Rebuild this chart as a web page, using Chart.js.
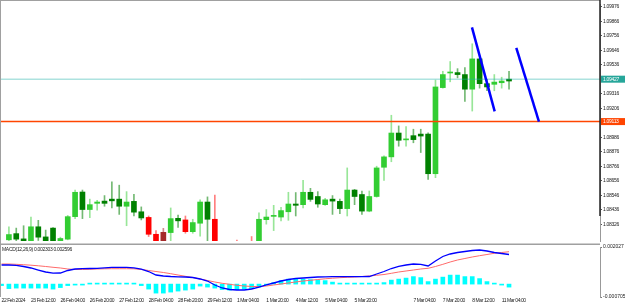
<!DOCTYPE html>
<html><head><meta charset="utf-8">
<script src="https://cdn.jsdelivr.net/npm/chart.js@4.4.1/dist/chart.umd.min.js"></script>
<style>
html,body{margin:0;padding:0;background:#fff;}
#wrap{position:relative;width:625px;height:305px;overflow:hidden;background:#fff;}
canvas{position:absolute;left:0;}
#c1{top:0;} #c2{top:244px;}
</style></head><body>
<div id="wrap"><canvas id="c1" width="625" height="245"></canvas><canvas id="c2" width="625" height="61"></canvas></div>
<script>
// ---------- DATA (H4 bars, bar 0 = 22 Feb 2024 20:00) ----------
const tickBars   = [0,4,8,12,16,20,24,28,32,36,40,44,48,56,60,64,68];
const tickLabels = ['22 Feb 2024','23 Feb 12:00','26 Feb 04:00','26 Feb 20:00','27 Feb 12:00','28 Feb 04:00','28 Feb 20:00','29 Feb 12:00','1 Mar 04:00','1 Mar 20:00','4 Mar 12:00','5 Mar 04:00','5 Mar 20:00','7 Mar 04:00','7 Mar 20:00','8 Mar 12:00','11 Mar 04:00'];

const open  = [1.08180,1.08207,1.08254,1.08214,1.08190,1.08306,1.08229,1.08296,1.08195,1.08212,
               1.08383,1.08570,1.08437,1.08484,1.08501,1.08516,1.08516,1.08462,1.08499,1.08420,
               1.08377,1.08249,1.08180,1.08262,1.08370,1.08358,1.08269,1.08333,1.08494,1.08363,
               1.08150,1.08110,1.08140,1.08100,1.08180,1.08160,1.08360,1.08385,1.08380,1.08420,
               1.08479,1.08474,1.08568,1.08536,1.08474,1.08516,1.08499,1.08444,1.08585,1.08551,
               1.08425,1.08536,1.08758,1.08837,1.09018,1.08966,1.08998,1.09010,1.09010,1.08709,
               1.09363,1.09474,1.09477,1.09462,1.09351,1.09581,1.09393,1.09388,1.09400,1.09427];
const high  = [1.08195,1.08306,1.08296,1.08314,1.08380,1.08355,1.08281,1.08300,1.08227,1.08392,
               1.08585,1.08585,1.08516,1.08506,1.08543,1.08647,1.08622,1.08573,1.08553,1.08457,
               1.08388,1.08277,1.08294,1.08449,1.08395,1.08388,1.08363,1.08511,1.08533,1.08546,
               1.08190,1.08180,1.08205,1.08180,1.08232,1.08412,1.08437,1.08469,1.08454,1.08568,
               1.08566,1.08659,1.08598,1.08573,1.08523,1.08543,1.08516,1.08753,1.08590,1.08578,
               1.08578,1.08766,1.08844,1.09153,1.09072,1.09067,1.09047,1.09047,1.09020,1.09420,
               1.09487,1.09561,1.09507,1.09516,1.09696,1.09585,1.09425,1.09462,1.09442,1.09487];
const low   = [1.08120,1.08195,1.08190,1.08185,1.08180,1.08202,1.08180,1.08175,1.08190,1.08207,
               1.08368,1.08368,1.08375,1.08432,1.08462,1.08449,1.08400,1.08314,1.08388,1.08358,
               1.08232,1.08150,1.08160,1.08190,1.08301,1.08257,1.08257,1.08234,1.08180,1.08120,
               1.08080,1.08060,1.08050,1.08070,1.08100,1.08150,1.08326,1.08277,1.08351,1.08355,
               1.08388,1.08449,1.08499,1.08454,1.08469,1.08400,1.08405,1.08388,1.08474,1.08400,
               1.08420,1.08531,1.08659,1.08800,1.08918,1.08918,1.08944,1.08870,1.08666,1.08679,
               1.09359,1.09407,1.09437,1.09259,1.09185,1.09359,1.09339,1.09339,1.09359,1.09351];
const close = [1.08150,1.08247,1.08212,1.08200,1.08306,1.08227,1.08190,1.08185,1.08217,1.08383,
               1.08568,1.08437,1.08474,1.08494,1.08484,1.08503,1.08462,1.08494,1.08417,1.08373,
               1.08249,1.08170,1.08264,1.08368,1.08351,1.08269,1.08338,1.08494,1.08363,1.08150,
               1.08110,1.08140,1.08100,1.08150,1.08150,1.08363,1.08380,1.08390,1.08429,1.08479,
               1.08469,1.08568,1.08514,1.08479,1.08511,1.08501,1.08444,1.08585,1.08536,1.08425,
               1.08536,1.08753,1.08837,1.09018,1.08963,1.08970,1.08968,1.08995,1.08709,1.09368,
               1.09462,1.09479,1.09462,1.09351,1.09581,1.09393,1.09368,1.09405,1.09413,1.09413];
// candle colouring regime: u = green scheme, d = red scheme
const trend = ['u','u','u','u','u','u','u','u','u','u','u','u','u','u','u','u','u','u','u','u',
               'd','d','d','u','u','d','u','u','u','d','d','d','d','d','d','u','u','u','u','u',
               'u','u','u','u','u','u','u','u','u','u','u','u','u','u','u','u','u','u','u','u',
               'u','u','u','u','u','u','u','u','u','u'];

const priceTicks = [1.09976,1.09866,1.09756,1.09646,1.09536,1.09316,1.09206,1.08986,1.08876,1.08766,1.08656,1.08546,1.08436,1.08326];
const bidPrice   = 1.09427;
const levelPrice = 1.09105;
const levelLabel = '1.09113';
const trendLineA = [{x:63.96,y:1.09820},{x:67.05,y:1.09183}];
const trendLineB = [{x:69.99,y:1.09665},{x:73.07,y:1.09105}];

const macdMain = [0.001043,0.001043,0.001027,0.000962,0.000880,0.000770,0.000661,0.000595,0.000606,0.000743,
                  0.000825,0.000841,0.000852,0.000863,0.000890,0.000918,0.000918,0.000918,0.000890,0.000814,
                  0.000688,0.000497,0.000442,0.000415,0.000399,0.000388,0.000361,0.000279,0.000169,-0.000049,
                  -0.000213,-0.000295,-0.000323,-0.000323,-0.000268,-0.000159,-0.000049,0.000060,0.000169,0.000251,
                  0.000306,0.000333,0.000361,0.000388,0.000399,0.000404,0.000404,0.000404,0.000404,0.000404,
                  0.000415,0.000552,0.000688,0.000852,0.000972,0.001043,0.001098,0.001081,0.000989,0.001262,
                  0.001508,0.001645,0.001726,0.001781,0.001836,0.001863,0.001808,0.001726,0.001672,0.001617];
const macdSignal = [0.001098,0.001098,0.001081,0.001060,0.001033,0.001000,0.000962,0.000918,0.000880,0.000825,
                    0.000798,0.000798,0.000809,0.000825,0.000836,0.000841,0.000841,0.000841,0.000836,0.000798,
                    0.000743,0.000688,0.000634,0.000568,0.000497,0.000426,0.000361,0.000279,0.000197,0.000115,
                    0.000044,-0.000011,-0.000066,-0.000104,-0.000131,-0.000131,-0.000104,-0.000049,0.000005,0.000060,
                    0.000115,0.000169,0.000207,0.000251,0.000289,0.000322,0.000350,0.000371,0.000388,0.000415,
                    0.000442,0.000481,0.000524,0.000590,0.000661,0.000716,0.000770,0.000825,0.000863,0.000962,
                    0.001081,0.001207,0.001317,0.001399,0.001481,0.001552,0.001617,0.001683,0.001726,0.001770];
const macdHist = [-0.000082,-0.000246,-0.000219,-0.000219,-0.000219,-0.000219,-0.000219,-0.000273,-0.000191,-0.000082,
                  -0.000038,-0.000027,0.000027,0.000038,0.000038,0.000038,0.000038,0.000027,0.000016,-0.000082,
                  -0.000273,-0.000492,-0.000492,-0.000437,-0.000382,-0.000328,-0.000273,-0.000109,-0.000164,-0.000219,
                  -0.000301,-0.000328,-0.000301,-0.000273,-0.000246,-0.000164,-0.000038,0.000082,0.000191,0.000273,
                  0.000301,0.000273,0.000246,0.000219,0.000191,0.000109,0.000055,0.000038,0.000027,0.000016,
                  0.000016,0.000038,0.000082,0.000219,0.000273,0.000328,0.000410,0.000355,0.000137,0.000273,
                  0.000382,0.000492,0.000492,0.000410,0.000410,0.000301,0.000137,0.000027,-0.000027,-0.000164];
const macdTicks = [0.002027,-0.000705];
const macdName = 'MACD(12,26,9)';
const macdValues = [0.002303,0.002596];

// ---------- RENDER ----------
const FONT = "'Liberation Sans',Arial,sans-serif";
const X_MIN = -0.074, X_MAX = 81.37;
const P_MIN = 1.08198, P_MAX = 1.09998;
const idx = open.map((_, k) => k);

function isBull(k){ return close[k] >= open[k]; }
function bodyColor(k){
  if (trend[k] === 'd') return isBull(k) ? '#A52A2A' : '#FF0000';
  return isBull(k) ? '#32CD32' : '#008000';
}
function wickColor(k){
  if (trend[k] === 'd') return isBull(k) ? 'rgba(165,42,42,0.55)' : 'rgba(255,0,0,0.5)';
  return isBull(k) ? 'rgba(50,205,50,0.5)' : 'rgba(0,128,0,0.55)';
}

const mainDecor = {
  id: 'mainDecor',
  beforeDraw(chart){ chart.ctx.letterSpacing = '-0.3px'; },
  afterDraw(chart){
    const ctx = chart.ctx, y = chart.scales.y, a = chart.chartArea;
    ctx.save();
    ctx.strokeStyle = '#a0a0a0'; ctx.lineWidth = 1;
    ctx.beginPath(); ctx.moveTo(0, 0.5); ctx.lineTo(a.right, 0.5); ctx.stroke();
    ctx.beginPath(); ctx.moveTo(0.5, 0); ctx.lineTo(0.5, 245); ctx.stroke();
    ctx.lineWidth = 1.5;
    ctx.beginPath(); ctx.moveTo(0, 244.2); ctx.lineTo(a.right, 244.2); ctx.stroke();
    ctx.strokeStyle = '#222'; ctx.lineWidth = 1.5;
    ctx.beginPath(); ctx.moveTo(a.right, 0); ctx.lineTo(a.right, 216); ctx.stroke();
    const tags = [[bidPrice, bidPrice.toFixed(5), '#26A69A'], [levelPrice, levelLabel, '#FF4500']];
    ctx.font = '5px ' + FONT; ctx.textBaseline = 'middle'; ctx.textAlign = 'left';
    for (const [p, t, c] of tags){
      const py = y.getPixelForValue(p);
      ctx.fillStyle = c; ctx.fillRect(a.right + 1, py - 3.5, 24, 7);
      ctx.fillStyle = '#fff'; ctx.fillText(t, a.right + 3, py + 0.3);
    }
    ctx.restore();
  }
};

new Chart(document.getElementById('c1'), {
  type: 'bar',
  data: { datasets: [
    { type:'line', data: trendLineA, borderColor:'#0000FF', borderWidth:2.5, pointRadius:0, order:0 },
    { type:'line', data: trendLineB, borderColor:'#0000FF', borderWidth:2.5, pointRadius:0, order:0 },
    { type:'line', data: [{x:X_MIN,y:bidPrice},{x:X_MAX,y:bidPrice}], borderColor:'rgba(32,178,170,0.55)', borderWidth:1, pointRadius:0, order:1 },
    { type:'line', data: [{x:X_MIN,y:levelPrice},{x:X_MAX,y:levelPrice}], borderColor:'#FF4500', borderWidth:1.5, pointRadius:0, order:1 },
    { type:'bar', data: idx.map(k => ({x:k, y:[open[k], close[k]]})), backgroundColor: idx.map(bodyColor), borderWidth:0, barThickness:5, grouped:false, minBarLength:1, order:2 },
    { type:'bar', data: idx.map(k => ({x:k, y:[low[k], high[k]]})), backgroundColor: idx.map(wickColor), borderWidth:0, barThickness:1, grouped:false, order:3 }
  ]},
  options: {
    responsive:false, animation:false, devicePixelRatio:1,
    layout:{ padding:{ left:1, right:0, top:1, bottom:1 } },
    plugins:{ legend:{display:false}, tooltip:{enabled:false} },
    scales:{
      x:{ type:'linear', min:X_MIN, max:X_MAX, display:false, offset:false },
      y:{ type:'linear', position:'right', min:P_MIN, max:P_MAX,
          afterBuildTicks: s => { s.ticks = priceTicks.map(v => ({value:v})); },
          afterFit: s => { s.width = 25; },
          ticks:{ autoSkip:false, font:{family:FONT, size:5}, color:'#222', padding:1, callback: v => Number(v).toFixed(5) },
          grid:{ drawOnChartArea:false, drawTicks:true, tickLength:2, color:'#555' },
          border:{ display:true, color:'#999', width:1 } }
    }
  },
  plugins:[mainDecor]
});

const macdDecor = {
  id: 'macdDecor',
  beforeDraw(chart){ chart.ctx.letterSpacing = '0px'; },
  afterDatasetsDraw(chart){ chart.ctx.letterSpacing = '-0.42px'; },
  afterDraw(chart){
    const ctx = chart.ctx, a = chart.chartArea;
    ctx.save();
    ctx.letterSpacing = '-0.3px';
    ctx.strokeStyle = '#a0a0a0'; ctx.lineWidth = 1;
    ctx.beginPath(); ctx.moveTo(0.5, 0); ctx.lineTo(0.5, a.bottom); ctx.stroke();
    ctx.font = '5px ' + FONT; ctx.fillStyle = '#222'; ctx.textBaseline = 'middle'; ctx.textAlign = 'left';
    ctx.fillText(macdName + ' ' + macdValues.map(v => v.toFixed(6)).join(' '), 2, 6);
    ctx.restore();
  }
};

new Chart(document.getElementById('c2'), {
  type: 'bar',
  data: { datasets: [
    { type:'line', data: idx.map(k => ({x:k, y:macdMain[k]})), borderColor:'#0000FF', borderWidth:1.3, pointRadius:0, order:0 },
    { type:'line', data: idx.map(k => ({x:k, y:macdSignal[k]})), borderColor:'#FF6A6A', borderWidth:1, pointRadius:0, order:1 },
    { type:'bar', data: idx.map(k => ({x:k, y:macdHist[k]})), backgroundColor:'#00FFFF', borderWidth:0, barThickness:4, grouped:false, minBarLength:1, order:2 }
  ]},
  options: {
    responsive:false, animation:false, devicePixelRatio:1,
    layout:{ padding:{ left:1, right:0, top:3, bottom:0 } },
    plugins:{ legend:{display:false}, tooltip:{enabled:false} },
    scales:{
      x:{ type:'linear', position:'bottom', min:X_MIN, max:X_MAX, offset:false,
          afterBuildTicks: s => { s.ticks = tickBars.map(v => ({value:v})); },
          ticks:{ display:true, z:1, autoSkip:false, maxRotation:0, minRotation:0, align:'start', padding:1,
                  font:{family:FONT, size:5}, color:'#222', callback: (v, i) => tickLabels[i] },
          grid:{ display:true, drawOnChartArea:false, drawTicks:false }, border:{ display:false } },
      y:{ type:'linear', position:'right', min:macdTicks[1], max:macdTicks[0],
          afterBuildTicks: s => { s.ticks = macdTicks.map(v => ({value:v})); },
          afterFit: s => { s.width = 25; s.paddingTop = 0; s.paddingBottom = 0; },
          ticks:{ autoSkip:false, font:{family:FONT, size:5}, color:'#222', padding:1, callback: v => Number(v).toFixed(6) },
          grid:{ drawOnChartArea:false, drawTicks:true, tickLength:2, color:'#777' },
          border:{ display:true, color:'#999', width:1 } }
    }
  },
  plugins:[macdDecor]
});
</script>
</body></html>
